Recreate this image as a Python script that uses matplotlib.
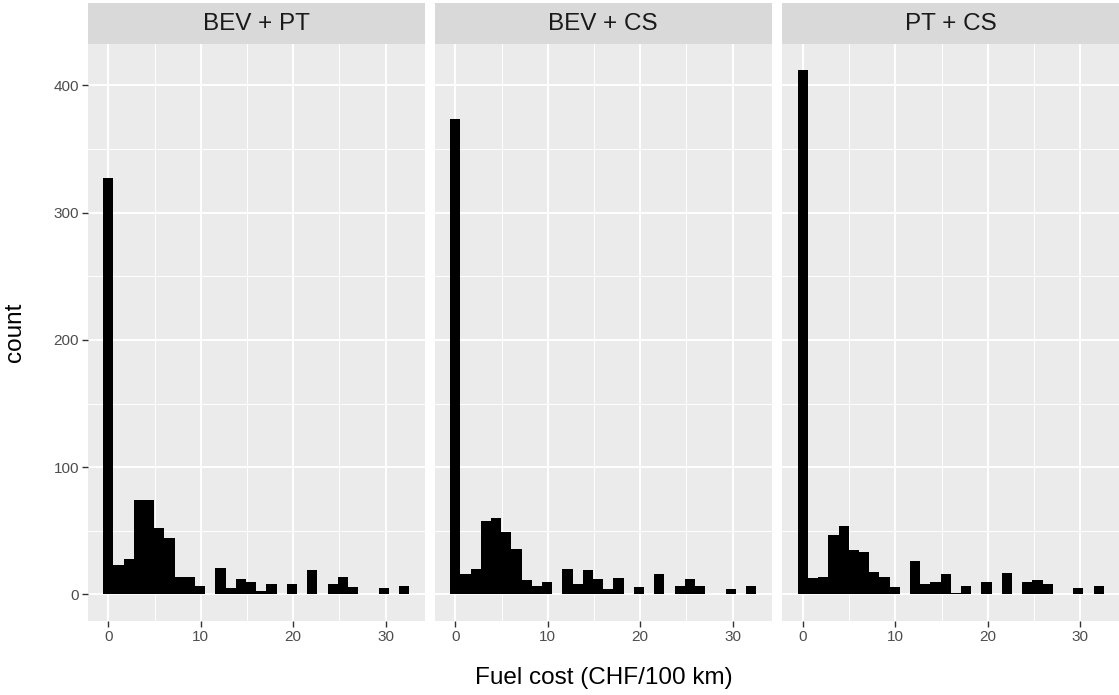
import numpy as np
import matplotlib

matplotlib.use("Agg")
import matplotlib.pyplot as plt
from matplotlib.patches import Rectangle

plt.rcParams["font.family"] = ["Liberation Sans", "DejaVu Sans"]

# histogram data: 30 bins (ggplot default), centred from 0 to 32 CHF/100 km
n_bins = 30
fuel_cost_max = 32.0
panel_titles = ["BEV + PT", "BEV + CS", "PT + CS"]

counts_bev_pt = [327, 23, 28, 74, 74, 52, 44, 14, 14, 7, 0, 21, 5, 12, 10,
                 3, 8, 0, 8, 0, 19, 0, 8, 14, 6, 0, 0, 5, 0, 7]
counts_bev_cs = [374, 16, 20, 58, 60, 49, 36, 11, 7, 10, 0, 20, 8, 19, 12,
                 4, 13, 0, 6, 0, 16, 0, 7, 12, 7, 0, 0, 4, 0, 7]
counts_pt_cs = [412, 13, 14, 47, 54, 35, 33, 18, 14, 6, 0, 26, 8, 10, 16,
                1, 7, 0, 10, 0, 17, 0, 10, 11, 8, 0, 0, 5, 0, 7]
panel_counts = [counts_bev_pt, counts_bev_cs, counts_pt_cs]

x_ticks = [0, 10, 20, 30]
x_minor = [5, 15, 25]
y_ticks = [0, 100, 200, 300, 400]
y_minor = [50, 150, 250, 350]

bin_width = fuel_cost_max / (n_bins - 1)
bin_centers = np.arange(n_bins) * bin_width

W, H = 1119, 695
fig = plt.figure(figsize=(W / 100, H / 100), dpi=100)

panel_left = [88, 435, 782.5]
panel_w = 336.5
panel_top, panel_bottom = 44, 620.7
strip_h = 41

x_lo = -bin_width / 2
x_hi = fuel_cost_max + bin_width / 2
x_pad = (x_hi - x_lo) * 0.05
y_max = max(max(c) for c in panel_counts)

for i, (left, title, counts) in enumerate(zip(panel_left, panel_titles, panel_counts)):
    ax = fig.add_axes([left / W, 1 - panel_bottom / H, panel_w / W,
                       (panel_bottom - panel_top) / H])
    ax.set_facecolor("#EBEBEB")
    for s in ax.spines.values():
        s.set_visible(False)

    for v in x_minor:
        ax.axvline(v, color="white", lw=0.7, zorder=0)
    for v in y_minor:
        ax.axhline(v, color="white", lw=0.7, zorder=0)
    for v in x_ticks:
        ax.axvline(v, color="white", lw=1.4, zorder=0)
    for v in y_ticks:
        ax.axhline(v, color="white", lw=1.4, zorder=0)

    ax.bar(bin_centers, counts, width=bin_width, color="black", linewidth=0, zorder=2)

    ax.set_xlim(x_lo - x_pad, x_hi + x_pad)
    ax.set_ylim(-y_max * 0.05, y_max * 1.05)
    ax.set_xticks(x_ticks)
    ax.tick_params(axis="x", length=4.5, width=1.0, color="#333333",
                   labelsize=11, labelcolor="#4D4D4D", pad=2)
    if i == 0:
        ax.set_yticks(y_ticks)
        ax.tick_params(axis="y", length=4.5, width=1.0, color="#333333",
                       labelsize=11, labelcolor="#4D4D4D", pad=2)
    else:
        ax.set_yticks([])

    ax.add_patch(Rectangle((0, 1), 1, strip_h / (panel_bottom - panel_top),
                           transform=ax.transAxes, facecolor="#D9D9D9",
                           edgecolor="none", clip_on=False))
    ax.text(0.5, 1 + (strip_h / 2) / (panel_bottom - panel_top), title,
            transform=ax.transAxes, ha="center", va="center",
            fontsize=17.5, color="#1A1A1A")

fig.text((88 + 1118.7) / 2 / W, 1 - 678 / H, "Fuel cost (CHF/100 km)",
         ha="center", va="center", fontsize=17.5)
fig.text(15 / W, 1 - (panel_top + panel_bottom) / 2 / H, "count",
         ha="center", va="center", rotation=90, fontsize=17.5)

fig.savefig("out.png", dpi=100, facecolor="white")
